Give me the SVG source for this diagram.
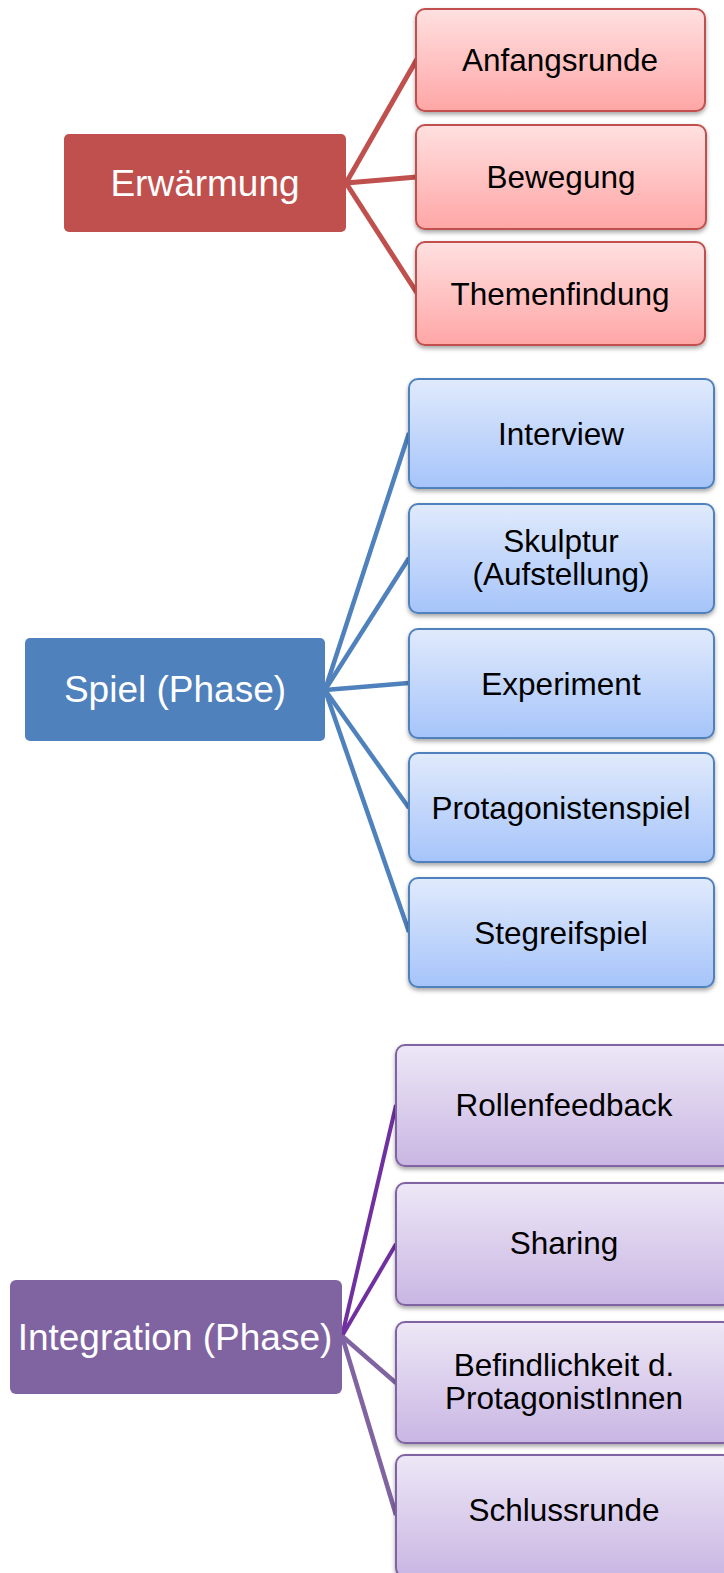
<svg xmlns="http://www.w3.org/2000/svg" width="724" height="1573" viewBox="0 0 724 1573">
  <defs>
    <linearGradient id="gRed" x1="0" y1="0" x2="0" y2="1">
      <stop offset="0" stop-color="#ffe0e0"/>
      <stop offset="1" stop-color="#ffa6a6"/>
    </linearGradient>
    <linearGradient id="gBlue" x1="0" y1="0" x2="0" y2="1">
      <stop offset="0" stop-color="#e0eafc"/>
      <stop offset="1" stop-color="#a6c4fa"/>
    </linearGradient>
    <linearGradient id="gPurple" x1="0" y1="0" x2="0" y2="1">
      <stop offset="0" stop-color="#ede7f6"/>
      <stop offset="1" stop-color="#c9b6e3"/>
    </linearGradient>
    <filter id="shadow" x="-5%" y="-5%" width="110%" height="120%">
      <feDropShadow dx="0" dy="2.5" stdDeviation="2" flood-color="#000" flood-opacity="0.35"/>
    </filter>
  </defs>
  <style>
    text { font-family: "Liberation Sans", Arial, sans-serif; text-anchor: middle; }
    .parent text { fill: #ffffff; font-size: 37px; }
    .child text { fill: #000000; font-size: 31.5px; }
    .child rect { stroke-width: 2; filter: url(#shadow); }
    .red.child rect { fill: url(#gRed); stroke: #c0504d; }
    .blue.child rect { fill: url(#gBlue); stroke: #4f81bd; }
    .purple.child rect { fill: url(#gPurple); stroke: #8064a2; }
    .connectors line { fill: none; stroke-linecap: butt; }
    .cr { stroke: #c0504d; stroke-width: 5; }
    .cb { stroke: #4f81bd; stroke-width: 4.5; }
    .cp1 { stroke: #7030a0; stroke-width: 4; }
    .cp2 { stroke: #8064a2; stroke-width: 4.5; }
  </style>

  <!-- connectors -->
  <g id="connectors" class="connectors">
    <line class="cr" x1="346" y1="183" x2="417" y2="59"/>
    <line class="cr" x1="346" y1="183" x2="417" y2="177"/>
    <line class="cr" x1="346" y1="183" x2="417" y2="293"/>

    <line class="cb" x1="325" y1="690" x2="409" y2="433"/>
    <line class="cb" x1="325" y1="690" x2="409" y2="558"/>
    <line class="cb" x1="325" y1="690" x2="409" y2="683"/>
    <line class="cb" x1="325" y1="690" x2="409" y2="808"/>
    <line class="cb" x1="325" y1="690" x2="409" y2="932"/>

    <line class="cp1" x1="342" y1="1336" x2="396" y2="1105"/>
    <line class="cp1" x1="342" y1="1336" x2="396" y2="1244"/>
    <line class="cp2" x1="342" y1="1336" x2="396" y2="1383"/>
    <line class="cp2" x1="342" y1="1336" x2="396" y2="1515"/>
  </g>

  <!-- Erwärmung -->
  <g id="erwaermung" class="parent">
    <rect x="64" y="134" width="282" height="98" rx="5" fill="#c0504d"/>
    <text x="205" y="196">Erwärmung</text>
  </g>
  <g id="anfangsrunde" class="red child">
    <rect x="416" y="9" width="289" height="102" rx="9"/>
    <text x="560" y="71">Anfangsrunde</text>
  </g>
  <g id="bewegung" class="red child">
    <rect x="416" y="125" width="290" height="104" rx="9"/>
    <text x="561" y="188">Bewegung</text>
  </g>
  <g id="themenfindung" class="red child">
    <rect x="416" y="242" width="289" height="103" rx="9"/>
    <text x="560" y="305">Themenfindung</text>
  </g>

  <!-- Spiel (Phase) -->
  <g id="spiel" class="parent">
    <rect x="25" y="638" width="300" height="103" rx="5" fill="#4f81bd"/>
    <text x="175" y="702">Spiel (Phase)</text>
  </g>
  <g id="interview" class="blue child">
    <rect x="409" y="379" width="305" height="109" rx="9"/>
    <text x="561" y="445">Interview</text>
  </g>
  <g id="skulptur" class="blue child">
    <rect x="409" y="504" width="305" height="109" rx="9"/>
    <text x="561" y="552">Skulptur</text>
    <text x="561" y="585">(Aufstellung)</text>
  </g>
  <g id="experiment" class="blue child">
    <rect x="409" y="629" width="305" height="109" rx="9"/>
    <text x="561" y="695">Experiment</text>
  </g>
  <g id="protagonistenspiel" class="blue child">
    <rect x="409" y="753" width="305" height="109" rx="9"/>
    <text x="561" y="819">Protagonistenspiel</text>
  </g>
  <g id="stegreifspiel" class="blue child">
    <rect x="409" y="878" width="305" height="109" rx="9"/>
    <text x="561" y="944">Stegreifspiel</text>
  </g>

  <!-- Integration (Phase) -->
  <g id="integration" class="parent">
    <rect x="10" y="1280" width="332" height="114" rx="6" fill="#8064a2"/>
    <text x="175" y="1350">Integration (Phase)</text>
  </g>
  <g id="rollenfeedback" class="purple child">
    <rect x="396" y="1045" width="336" height="121" rx="9"/>
    <text x="564" y="1116">Rollenfeedback</text>
  </g>
  <g id="sharing" class="purple child">
    <rect x="396" y="1183" width="336" height="122" rx="9"/>
    <text x="564" y="1254">Sharing</text>
  </g>
  <g id="befindlichkeit" class="purple child">
    <rect x="396" y="1322" width="336" height="121" rx="9"/>
    <text x="564" y="1376">Befindlichkeit d.</text>
    <text x="564" y="1409">ProtagonistInnen</text>
  </g>
  <g id="schlussrunde" class="purple child">
    <rect x="396" y="1455" width="336" height="122" rx="9"/>
    <text x="564" y="1521">Schlussrunde</text>
  </g>
</svg>
